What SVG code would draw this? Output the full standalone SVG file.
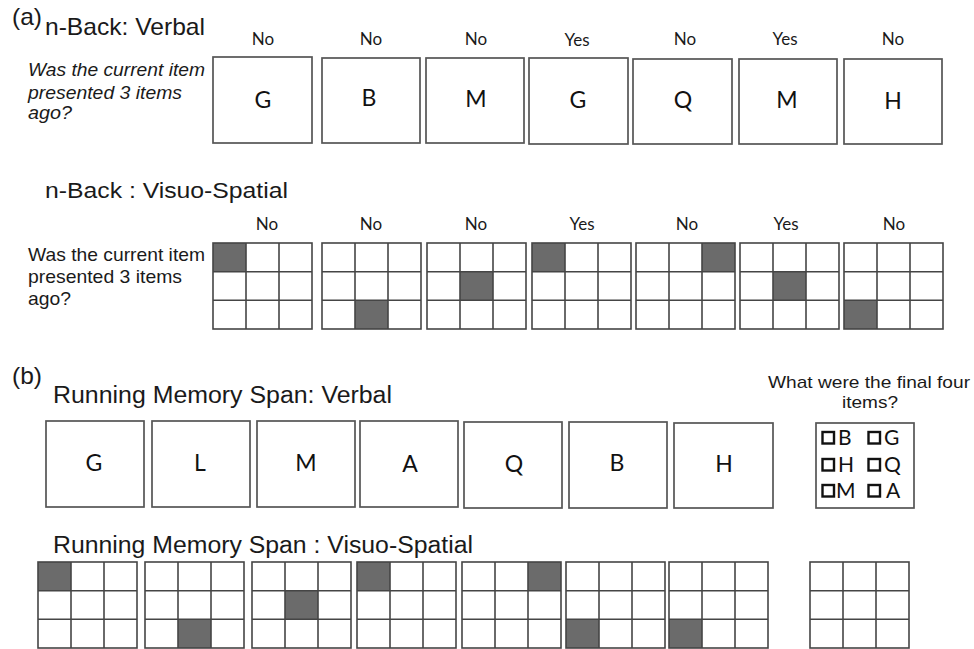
<svg xmlns="http://www.w3.org/2000/svg" xmlns:xlink="http://www.w3.org/1999/xlink" width="974" height="649" viewBox="0 0 974 649">
<style>
.bg{fill:#ffffff}
.box{fill:#ffffff;stroke:#555555;stroke-width:1.7}
.gl{fill:none;stroke:#454545;stroke-width:1.6}
.sh{fill:#6b6b6b}
.title{font-family:"Liberation Sans",Arial,sans-serif;fill:#1a1a1a}
.q{font-family:"Liberation Sans",Arial,sans-serif;font-size:19px;fill:#1a1a1a}
.lab{font-family:Lato,"Open Sans",sans-serif;font-size:17px;fill:#1a1a1a;text-anchor:middle}
.let{font-family:Lato,"Open Sans",sans-serif;font-size:23px;fill:#111111;text-anchor:middle}
.ans{font-family:Lato,"Open Sans",sans-serif;font-size:21px;fill:#111111}
.cb{fill:none;stroke:#111111;stroke-width:2.4}
</style>
<defs>
<g id="grid">
<rect x="0" y="0" width="99" height="86" class="gl"/>
<line x1="33" y1="0" x2="33" y2="86" class="gl"/>
<line x1="66" y1="0" x2="66" y2="86" class="gl"/>
<line x1="0" y1="28.7" x2="99" y2="28.7" class="gl"/>
<line x1="0" y1="57.3" x2="99" y2="57.3" class="gl"/>
</g>
</defs>
<rect class="bg" x="0" y="0" width="974" height="649"/>

<g id="section-a-titles">
<text class="title" x="12" y="25" font-size="24" textLength="30" lengthAdjust="spacingAndGlyphs">(a)</text>
<text class="title" x="45" y="35" font-size="24" textLength="160" lengthAdjust="spacingAndGlyphs">n-Back: Verbal</text>
<text class="q" font-style="italic" x="28" y="76" textLength="177" lengthAdjust="spacingAndGlyphs">Was the current item</text>
<text class="q" font-style="italic" x="28" y="99" textLength="154" lengthAdjust="spacingAndGlyphs">presented 3 items</text>
<text class="q" font-style="italic" x="28" y="119" textLength="44" lengthAdjust="spacingAndGlyphs">ago?</text>
<text class="title" x="45" y="198" font-size="22" textLength="243" lengthAdjust="spacingAndGlyphs">n-Back : Visuo-Spatial</text>
<text class="q" x="28" y="261" textLength="177" lengthAdjust="spacingAndGlyphs">Was the current item</text>
<text class="q" x="28" y="283" textLength="154" lengthAdjust="spacingAndGlyphs">presented 3 items</text>
<text class="q" x="28" y="305" textLength="43" lengthAdjust="spacingAndGlyphs">ago?</text>
</g>

<g id="nback-verbal">
<g id="nv1"><text class="lab" x="263" y="45">No</text><rect class="box" x="213" y="57" width="99" height="86"/><text class="let" x="263" y="108">G</text></g>
<g id="nv2"><text class="lab" x="371" y="45">No</text><rect class="box" x="322" y="58" width="98" height="85"/><text class="let" x="369" y="106">B</text></g>
<g id="nv3"><text class="lab" x="476" y="45">No</text><rect class="box" x="426" y="58" width="98" height="85"/><text class="let" x="476" y="107">M</text></g>
<g id="nv4"><text class="lab" x="577" y="46">Yes</text><rect class="box" x="529" y="58" width="99" height="86"/><text class="let" x="578" y="108">G</text></g>
<g id="nv5"><text class="lab" x="685" y="45">No</text><rect class="box" x="633" y="59" width="99" height="85"/><text class="let" x="683" y="108">Q</text></g>
<g id="nv6"><text class="lab" x="785" y="45">Yes</text><rect class="box" x="739" y="59" width="98" height="85"/><text class="let" x="787" y="108">M</text></g>
<g id="nv7"><text class="lab" x="893" y="45">No</text><rect class="box" x="844" y="59" width="98" height="85"/><text class="let" x="893" y="109">H</text></g>
</g>

<g id="nback-spatial">
<g id="ns1"><text class="lab" x="267" y="230">No</text><rect class="sh" x="213" y="243" width="33" height="28.7"/><use xlink:href="#grid" x="213" y="243"/></g>
<g id="ns2"><text class="lab" x="371" y="230">No</text><rect class="sh" x="355" y="300.3" width="33" height="28.7"/><use xlink:href="#grid" x="322" y="243"/></g>
<g id="ns3"><text class="lab" x="476" y="230">No</text><rect class="sh" x="460" y="271.7" width="33" height="28.7"/><use xlink:href="#grid" x="427" y="243"/></g>
<g id="ns4"><text class="lab" x="582" y="230">Yes</text><rect class="sh" x="532" y="243" width="33" height="28.7"/><use xlink:href="#grid" x="532" y="243"/></g>
<g id="ns5"><text class="lab" x="687" y="230">No</text><rect class="sh" x="702" y="243" width="33" height="28.7"/><use xlink:href="#grid" x="636" y="243"/></g>
<g id="ns6"><text class="lab" x="786" y="230">Yes</text><rect class="sh" x="773" y="271.7" width="33" height="28.7"/><use xlink:href="#grid" x="740" y="243"/></g>
<g id="ns7"><text class="lab" x="894" y="230">No</text><rect class="sh" x="844" y="300.3" width="33" height="28.7"/><use xlink:href="#grid" x="844" y="243"/></g>
</g>

<g id="section-b-titles">
<text class="title" x="12" y="384" font-size="24" textLength="30" lengthAdjust="spacingAndGlyphs">(b)</text>
<text class="title" x="53" y="403" font-size="23" textLength="339" lengthAdjust="spacingAndGlyphs">Running Memory Span: Verbal</text>
<text class="title" x="768" y="388" font-size="17" textLength="202" lengthAdjust="spacingAndGlyphs">What were the final four</text>
<text class="title" x="842" y="408" font-size="17" textLength="56" lengthAdjust="spacingAndGlyphs">items?</text>
<text class="title" x="53" y="553" font-size="23" textLength="420" lengthAdjust="spacingAndGlyphs">Running Memory Span : Visuo-Spatial</text>
</g>

<g id="rms-verbal">
<g id="rv1"><rect class="box" x="46" y="421" width="98" height="86"/><text class="let" x="94" y="471">G</text></g>
<g id="rv2"><rect class="box" x="152" y="421" width="98" height="86"/><text class="let" x="200" y="471">L</text></g>
<g id="rv3"><rect class="box" x="257" y="421" width="98" height="86"/><text class="let" x="306" y="471">M</text></g>
<g id="rv4"><rect class="box" x="360" y="421" width="98" height="86"/><text class="let" x="410" y="472">A</text></g>
<g id="rv5"><rect class="box" x="464" y="422" width="98" height="86"/><text class="let" x="514" y="472">Q</text></g>
<g id="rv6"><rect class="box" x="569" y="422" width="98" height="86"/><text class="let" x="617" y="471">B</text></g>
<g id="rv7"><rect class="box" x="674" y="423" width="99" height="85"/><text class="let" x="724" y="472">H</text></g>
<g id="answer">
<rect class="box" x="816" y="423" width="98" height="85"/>
<rect class="cb" x="822.5" y="432" width="11.5" height="11.5"/><text class="ans" x="838" y="445">B</text>
<rect class="cb" x="868.5" y="432" width="11.5" height="11.5"/><text class="ans" x="884" y="445">G</text>
<rect class="cb" x="822.5" y="459" width="11.5" height="11.5"/><text class="ans" x="838" y="472">H</text>
<rect class="cb" x="868.5" y="459" width="11.5" height="11.5"/><text class="ans" x="884" y="472">Q</text>
<rect class="cb" x="822.5" y="485" width="11.5" height="11.5"/><text class="ans" x="836" y="498">M</text>
<rect class="cb" x="868.5" y="485" width="11.5" height="11.5"/><text class="ans" x="886" y="498">A</text>
</g>
</g>

<g id="rms-spatial">
<g id="rs1"><rect class="sh" x="38" y="562" width="33" height="28.7"/><use xlink:href="#grid" x="38" y="562"/></g>
<g id="rs2"><rect class="sh" x="178" y="619.3" width="33" height="28.7"/><use xlink:href="#grid" x="145" y="562"/></g>
<g id="rs3"><rect class="sh" x="285" y="590.7" width="33" height="28.7"/><use xlink:href="#grid" x="252" y="562"/></g>
<g id="rs4"><rect class="sh" x="357" y="562" width="33" height="28.7"/><use xlink:href="#grid" x="357" y="562"/></g>
<g id="rs5"><rect class="sh" x="528" y="562" width="33" height="28.7"/><use xlink:href="#grid" x="462" y="562"/></g>
<g id="rs6"><rect class="sh" x="566" y="619.3" width="33" height="28.7"/><use xlink:href="#grid" x="566" y="562"/></g>
<g id="rs7"><rect class="sh" x="669" y="619.3" width="33" height="28.7"/><use xlink:href="#grid" x="669" y="562"/></g>
<g id="rs8"><use xlink:href="#grid" x="810" y="562"/></g>
</g>
</svg>
